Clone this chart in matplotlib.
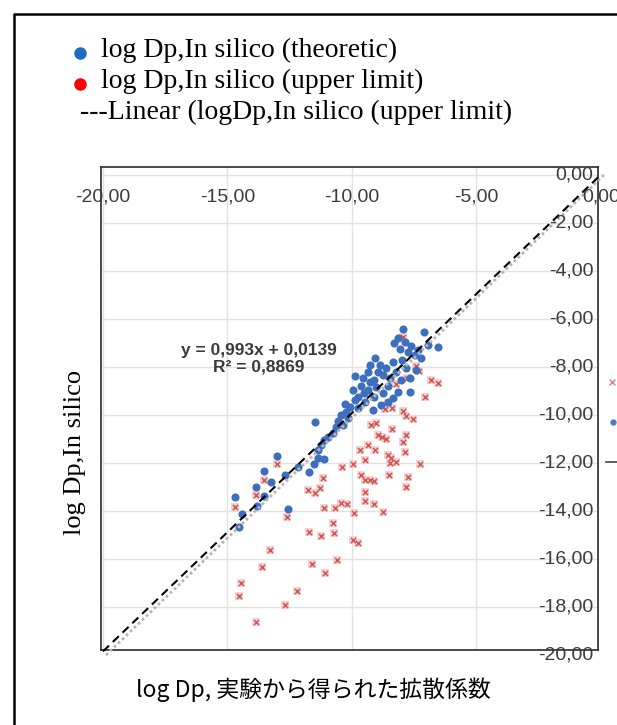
import matplotlib
matplotlib.use("Agg")
import matplotlib.pyplot as plt
import numpy as np
from matplotlib.lines import Line2D

# log Dp, in silico (theoretic) -- blue dots
theo_x = [-7.95, -7.11, -6.55, -8.31, -7.87, -7.63, -7.35, -7.47, -7.23, -7.75,
          -8.07, -9.08, -8.88, -8.63, -8.35, -8.23, -7.83, -7.67, -8.47, -9.88,
          -9.56, -9.28, -9.96, -9.36, -9.04, -8.76, -8.55, -8.15, -7.67, -9.76,
          -9.48, -9.12, -8.84, -10.08, -9.76, -9.16, -10.44, -10.16, -10.64, -10.76,
          -10.96, -11.12, -11.24, -11.37, -11.49, -11.37, -11.12, -11.53, -11.73, -12.17,
          -12.69, -13.01, -13.53, -13.25, -13.86, -13.53, -13.82, -14.70, -14.42, -14.54,
          -12.57, -10.56, -10.36, -10.24, -9.64, -9.36, -8.76, -8.03, -6.95, -8.15,
          -7.99, -7.43, -8.35, -8.96, -9.28, -9.52, -9.88, -10.28, -8.55, -9.12]
theo_y = [-6.42, -6.54, -7.17, -7.00, -6.96, -7.13, -7.29, -7.50, -7.63, -7.38,
          -7.25, -7.63, -7.92, -8.04, -7.79, -8.21, -8.04, -8.46, -8.46, -8.38,
          -8.46, -8.63, -8.96, -8.96, -8.83, -9.08, -8.79, -9.04, -9.04, -9.25,
          -9.46, -9.25, -9.58, -9.67, -9.71, -9.79, -10.00, -10.13, -10.50, -10.75,
          -10.92, -11.04, -11.25, -11.46, -10.29, -11.79, -11.83, -12.04, -12.38, -12.17,
          -12.50, -11.71, -12.33, -12.79, -13.00, -13.38, -13.79, -13.42, -14.13, -14.67,
          -13.92, -10.25, -10.42, -9.88, -8.79, -8.21, -8.33, -8.54, -7.08, -6.79,
          -7.71, -8.13, -9.29, -8.21, -7.92, -9.08, -9.38, -9.54, -9.46, -8.54]

# log Dp, in silico (upper limit) -- red crosses
upper_x = [-7.95, -7.43, -7.31, -7.79, -8.23, -6.83, -6.55, -7.07, -8.55, -8.67,
           -8.39, -7.95, -7.83, -7.55, -9.24, -9.04, -8.39, -8.96, -8.80, -8.63,
           -7.83, -7.95, -9.68, -9.36, -9.08, -7.87, -9.48, -8.55, -8.43, -8.23,
           -8.47, -10.40, -9.96, -7.27, -9.64, -9.48, -9.28, -9.12, -8.51, -7.75,
           -7.83, -9.48, -9.48, -11.12, -10.68, -10.44, -10.20, -9.92, -9.12, -8.76,
           -13.01, -13.53, -13.86, -14.70, -12.61, -11.16, -11.77, -11.49, -11.29, -10.76,
           -11.73, -11.24, -10.72, -13.29, -13.61, -14.46, -14.54, -13.86, -12.69, -12.21,
           -11.61, -11.08, -10.60, -9.96, -9.76]
upper_y = [-6.75, -7.96, -8.17, -8.46, -8.71, -8.54, -8.67, -9.25, -9.50, -9.75,
           -9.71, -9.83, -10.04, -10.17, -10.42, -10.33, -10.58, -10.83, -10.92, -11.00,
           -10.83, -11.13, -11.46, -11.25, -11.46, -11.54, -11.88, -11.67, -11.79, -11.96,
           -12.00, -12.17, -12.04, -12.04, -12.50, -12.71, -12.71, -12.75, -12.50, -12.58,
           -13.00, -13.21, -13.58, -13.88, -13.88, -13.67, -13.71, -14.08, -13.71, -14.04,
           -12.04, -12.71, -13.33, -13.83, -14.25, -12.63, -13.13, -13.25, -13.04, -14.50,
           -14.88, -15.04, -14.92, -15.63, -16.33, -17.00, -17.54, -18.63, -17.92, -17.33,
           -16.21, -16.58, -16.04, -15.21, -15.33]

slope, intercept = 0.993, 0.0139
x_ticks = [-20, -15, -10, -5, 0]
y_ticks = [0, -2, -4, -6, -8, -10, -12, -14, -16, -18, -20]

serif = "Liberation Serif"
sans = "Liberation Sans"
tick_color = "#3c3c3c"

fig = plt.figure(figsize=(6.17, 7.25), dpi=100)
W, H = 617, 725


def fx(px):
    return px / W


def fy(py):
    return 1 - py / H


# outer frame of the figure panel
fig.add_artist(Line2D([fx(14), fx(14), fx(620)], [fy(730), fy(14), fy(14)],
                      color="black", lw=1.8, transform=fig.transFigure))

# legend written as plain text
fig.add_artist(Line2D([fx(80)], [fy(53)], marker="o", ms=8, color="#1c6cc6",
                      lw=0, transform=fig.transFigure))
fig.add_artist(Line2D([fx(80)], [fy(84)], marker="o", ms=8, color="#ff0000",
                      lw=0, transform=fig.transFigure))
fig.text(fx(101), fy(50), "log Dp,In silico (theoretic)", family=serif,
         fontsize=20, va="center", ha="left")
fig.text(fx(101), fy(81), "log Dp,In silico (upper limit)", family=serif,
         fontsize=20, va="center", ha="left")
fig.text(fx(80), fy(112), "---Linear (logDp,In silico (upper limit)", family=serif,
         fontsize=20, va="center", ha="left")

ax = fig.add_axes([fx(101), fy(650), (598 - 101) / W, (650 - 167) / H])
ax.set_xlim(-20.08, -0.12)
ax.set_ylim(-19.79, 0.33)
ax.set_xticks([])
ax.set_yticks([])
for s in ax.spines.values():
    s.set_color("#2a2a2a")
    s.set_linewidth(1.2)

for x in x_ticks[:-1]:
    ax.axvline(x, color="#e2e2e2", lw=1.0, zorder=0)
for y in y_ticks[:-1]:
    ax.axhline(y, color="#e2e2e2", lw=1.0, zorder=0)

# markers
ax.scatter(upper_x, upper_y, marker="s", s=30, color="#f6d3d3", lw=0, zorder=2)
ax.scatter(upper_x, upper_y, marker="x", s=14, color="#d25656", linewidths=1.1, zorder=3)
ax.scatter(theo_x, theo_y, marker="o", s=34, color="#3d6fbe", lw=0, zorder=4)

# identity line and trendline
line_x = np.array([-20, 0])
ax.plot(line_x + 0.12, line_x, color="#b5b5b5", lw=2.0, ls=(0, (1, 1)),
        clip_on=False, zorder=5)
ax.plot(line_x, slope * line_x + intercept, color="black", lw=1.5,
        ls=(0, (4, 2.5)), clip_on=False, zorder=6)

ax.text(-13.73, -7.67, "y = 0,993x + 0,0139\nR² = 0,8869", ha="center",
        va="center", family=sans, fontsize=12.5, color="#3a3a3a",
        fontweight="bold", linespacing=1.1, zorder=7)

# Excel-style axes crossing at the top right corner
for x in x_ticks:
    ax.text(x, -0.92, f"{x},00", ha="center", va="center", family=sans,
            fontsize=14, color=tick_color, clip_on=False, zorder=8)
for y in y_ticks:
    t = ax.text(-0.3, y, f"{y},00", ha="right", va="center", family=sans,
                fontsize=14, color=tick_color, zorder=8)
    t.set_clip_path(ax.patch)

fig.text(fx(75), fy(452), "log Dp,In silico", rotation=90, family=serif,
         fontsize=19, ha="center", va="center")
fig.text(fx(313), fy(690), "log Dp, 実験から得られた拡散係数",
         family=["Noto Sans CJK JP", "DejaVu Sans"], fontsize=16.5,
         ha="center", va="center")

# clipped remains of the original legend at the right edge
fig.add_artist(Line2D([fx(612)], [fy(382)], marker="x", ms=4, mew=1,
                      color="#e07a8a", lw=0, transform=fig.transFigure))
fig.add_artist(Line2D([fx(613)], [fy(422)], marker="o", ms=3.5,
                      color="#4a7cc4", lw=0, transform=fig.transFigure))
fig.add_artist(Line2D([fx(606), fx(617)], [fy(462), fy(462)], color="#444444",
                      lw=1.2, transform=fig.transFigure))

fig.savefig("out.png", dpi=100, facecolor="white")
